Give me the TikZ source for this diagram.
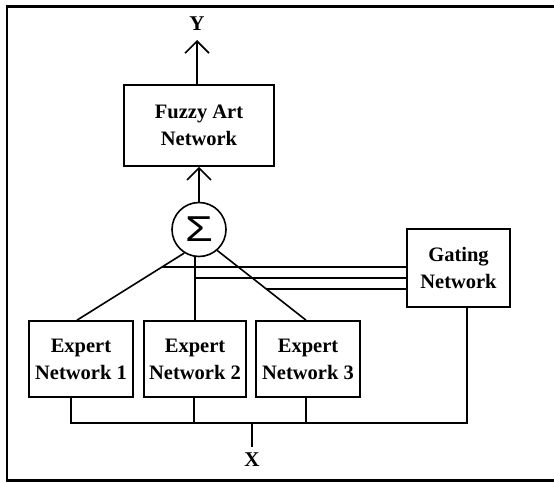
\documentclass[tikz,border=0pt]{standalone}
\usepackage{fontspec}
\setmainfont{Liberation Serif}
\newfontfamily\sigfont{Liberation Sans}
\usetikzlibrary{arrows.meta,intersections,calc}
\begin{document}
\begin{tikzpicture}[x=1pt,y=-1pt,
  boxnode/.style={draw, line width=1.7pt, inner sep=0pt, align=center,
    font=\bfseries\fontsize{20.5}{27}\selectfont},
  lbl/.style={inner sep=0pt, font=\bfseries\fontsize{21}{21}\selectfont},
  conn/.style={line width=1.6pt},
  arr/.style={conn, -{Straight Barb[length=12pt,width=24pt,line width=1.6pt]}}]
\useasboundingbox (0,0) rectangle (554,482);
% frame
\draw[line width=2.4pt] (554,6.5) -- (7,6.5) -- (7,480.5) -- (554,480.5);
% nodes
\node[lbl] (Y) at (197,24) {Y};
\node[lbl] (X) at (252,460) {X};
\node[boxnode, minimum width=150pt, minimum height=81pt] (fuzzy) at (199,125.5) {Fuzzy Art\\Network};
\node[draw, circle, line width=1.6pt, minimum size=54pt, inner sep=0pt] (sigma) at (199,229.5)
  {\sigfont\fontsize{36}{36}\selectfont\scalebox{1.25}[1]{Σ}};
\node[boxnode, minimum width=103pt, minimum height=78pt] (gate) at (458.5,268) {Gating\\Network};
\node[boxnode, minimum width=104pt, minimum height=76pt] (e1) at (81,359) {Expert\\Network 1};
\node[boxnode, minimum width=102pt, minimum height=76pt] (e2) at (195,359) {Expert\\Network 2};
\node[boxnode, minimum width=104pt, minimum height=76pt] (e3) at (308,359) {Expert\\Network 3};
% arrows up
\coordinate (ytip) at (197,40);
\draw[arr] (fuzzy.north -| ytip) -- (ytip);
\draw[arr] (sigma.north) -- (fuzzy.south);
% experts to sigma
\draw[conn, name path=d1] (sigma.238) -- ([xshift=-4pt]e1.north);
\draw[conn] (sigma.south -| e2.north) -- (e2.north);
\draw[conn, name path=d3] (sigma.-49) -- ([xshift=-2pt]e3.north);
% gating lines
\coordinate (g1) at (407,267);
\coordinate (g2) at (407,278);
\coordinate (g3) at (407,289);
\path[name path=r1] (g1) -- ++(-300,0);
\path[name path=r3] (g3) -- ++(-300,0);
\path[name intersections={of=d1 and r1, by=h1}];
\path[name intersections={of=d3 and r3, by=h3}];
\draw[conn] (g1) -- (h1);
\draw[conn] (g2) -- (g2 -| e2.north);
\draw[conn] (g3) -- (h3);
% input bus
\coordinate (b1) at (71,423);
\coordinate (b2) at (194,423);
\coordinate (b3) at (306,423);
\coordinate (bg) at (467,423);
\coordinate (bx) at (252,423);
\coordinate (xe) at (252,447);
\draw[conn] (e1.south -| b1) -- (b1) -- (bg) -- (gate.south -| bg);
\draw[conn] (e2.south -| b2) -- (b2);
\draw[conn] (e3.south -| b3) -- (b3);
\draw[conn] (bx) -- (xe);
\end{tikzpicture}
\end{document}
